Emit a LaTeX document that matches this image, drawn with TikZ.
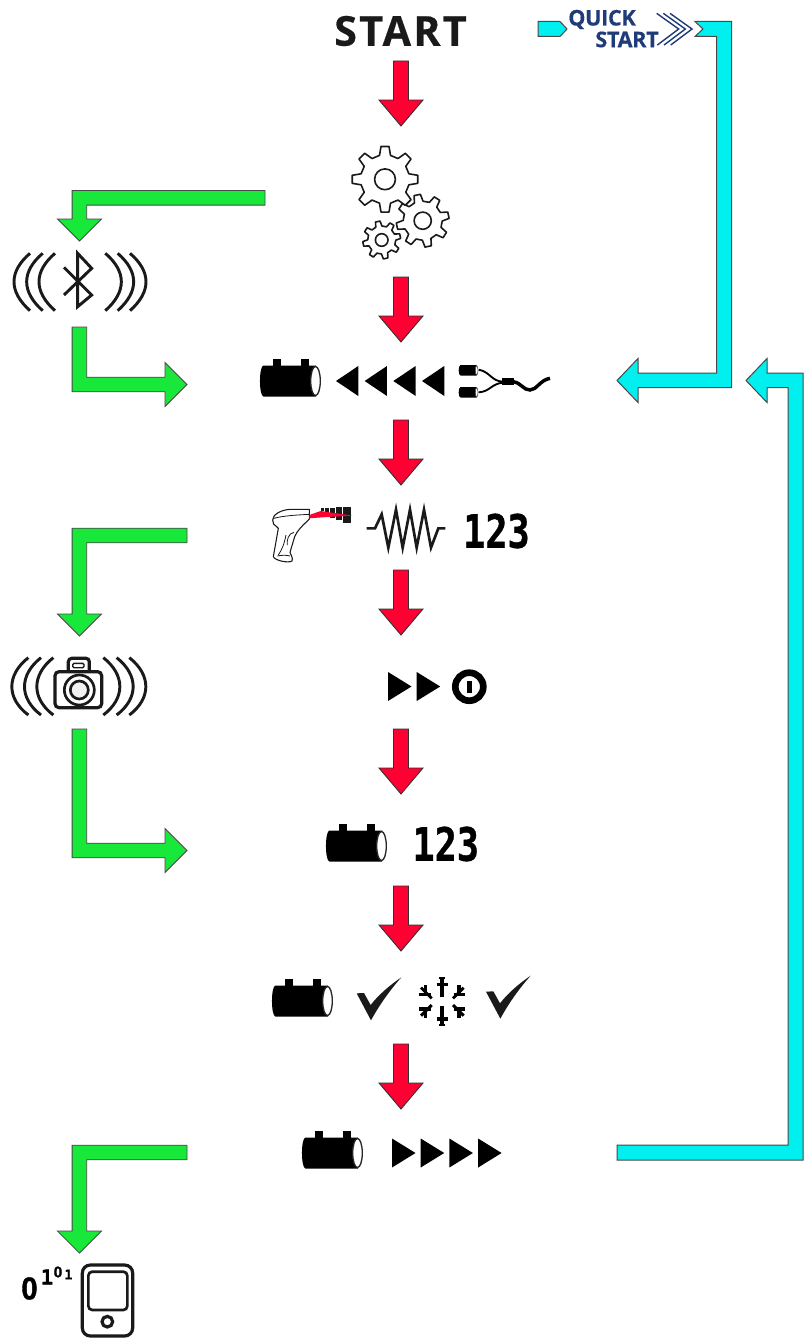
\documentclass[tikz,border=0pt]{standalone}
\usepackage{fontspec}
\usepackage{graphicx}
\usetikzlibrary{calc}
\setmainfont{Open Sans}
\newfontfamily\monofam[BoldFeatures={FakeBold=0.9}]{DejaVu Sans Mono}
\newfontfamily\sansfam[BoldFeatures={FakeBold=1.2}]{Liberation Sans}
\newfontfamily\spacedfam[LetterSpace=5.5,BoldFeatures={FakeBold=0.3}]{Open Sans}
\newfontfamily\qsfam[LetterSpace=-1.5,BoldFeatures={FakeBold=0.5}]{Open Sans}
\definecolor{redarrow}{HTML}{FF0033}
\definecolor{greenarrow}{HTML}{17E83A}
\definecolor{cyanarrow}{HTML}{00F0F0}
\definecolor{navy}{HTML}{1F3B7A}
\definecolor{ink}{HTML}{1A1A1A}
\tikzset{
  redblock/.style={fill=redarrow,draw=ink!90,line width=.65pt,line join=miter},
  greenblock/.style={fill=greenarrow,draw=ink!80,line width=.65pt,line join=miter},
  cyanblock/.style={fill=cyanarrow,draw=ink!80,line width=.75pt,line join=miter},
  gearline/.style={draw=ink,fill=white,line width=1.2pt,line join=round},
  wave/.style={draw=ink,line width=2.2pt},
  iconline/.style={draw=ink,line width=2.4pt},
  label/.style={inner sep=0pt,outer sep=0pt},
  battery/.pic={
    \fill[black] (12.7,-22) rectangle (20.7,-14);
    \fill[black] (41,-22) rectangle (49,-14);
    \fill[black] (3.5,-15.5) -- (56,-15.5) -- (56,15.5) -- (3.5,15.5) .. controls (-1.2,15.5) and (-1.2,-15.5) .. (3.5,-15.5) -- cycle;
    \draw[fill=white,draw=black!85,line width=1pt] (55.5,0) ellipse (4.8 and 14.5);
  },
  leftgly/.pic={\fill[black] (0,0) -- (22.3,-15) -- (22.3,15) -- cycle;},
  rightgly/.pic={\fill[black] (0,-14.5) -- (23.5,0) -- (0,14.5) -- cycle;},
}
% gear: #1 cx, #2 cy, #3 outer, #4 root, #5 rotation, #6 hole
\newcommand{\gearshape}[6]{%
  \draw[gearline] ({#1+#4*cos(#5-13)},{#2-#4*sin(#5-13)})
  \foreach \k in {0,...,7}{
    -- ({#1+#4*cos(#5+\k*45-13)},{#2-#4*sin(#5+\k*45-13)})
    -- ({#1+#3*cos(#5+\k*45-7)},{#2-#3*sin(#5+\k*45-7)})
    -- ({#1+#3*cos(#5+\k*45+7)},{#2-#3*sin(#5+\k*45+7)})
    -- ({#1+#4*cos(#5+\k*45+13)},{#2-#4*sin(#5+\k*45+13)})
  } -- cycle;
  \draw[gearline] (#1,#2) circle (#6);
}
% red block arrow between two named points
\newcommand{\RedDown}[2]{%
  \draw[redblock] ($(#1)+(-7.5,0)$) -- ($(#1)+(7.5,0)$) -- ($(#2)+(7.5,-26)$) -- ($(#2)+(22,-26)$) -- (#2)
   -- ($(#2)+(-22,-26)$) -- ($(#2)+(-7.5,-26)$) -- cycle;}
\newcommand{\ElbowDown}[2]{%
  \draw[greenblock] ($(#1)+(0,-7.3)$) -- ($(#2|-#1)+(-7.3,-7.3)$) -- ($(#2)+(-7.3,-22)$) -- ($(#2)+(-22,-22)$) -- (#2)
   -- ($(#2)+(22,-22)$) -- ($(#2)+(7.3,-22)$) -- ($(#2|-#1)+(7.3,7.3)$) -- ($(#1)+(0,7.3)$) -- cycle;}
\newcommand{\ElbowRight}[2]{%
  \draw[greenblock] ($(#1)+(-7.3,0)$) -- ($(#1|-#2)+(-7.3,7.3)$) -- ($(#2)+(-22,7.3)$) -- ($(#2)+(-22,22)$) -- (#2)
   -- ($(#2)+(-22,-22)$) -- ($(#2)+(-22,-7.3)$) -- ($(#1|-#2)+(7.3,-7.3)$) -- ($(#1)+(7.3,0)$) -- cycle;}
\begin{document}
\begin{tikzpicture}[x=.75pt,y=-.75pt]
\useasboundingbox (0,0) rectangle (803,1338);
\fill[white] (0,0) rectangle (803,1338);

% ---- labels
\node[label,text=ink,font=\spacedfam\bfseries\fontsize{31}{31}\selectfont] (start) at (400.5,31) {START};
\node[label,text=navy,font=\qsfam\bfseries\fontsize{16.2}{16}\selectfont] (quick) at (602,19.5) {QUICK};
\node[label,text=navy,font=\qsfam\bfseries\fontsize{16.2}{16}\selectfont] (qstart) at (627,39.5) {START};

% ---- red arrows
\foreach \n/\a/\b in {1/61/126,2/277/342,3/420/485,4/570/635,5/729/794,6/886/951,7/1044/1109}{
  \coordinate (r\n s) at (401,\a);
  \coordinate (r\n e) at (401,\b);
  \RedDown{r\n s}{r\n e}
}

% ---- green arrows
\coordinate (g1s) at (265,197.8); \coordinate (g1e) at (79.4,241);
\coordinate (g2s) at (79.4,327);  \coordinate (g2e) at (187,384.5);
\coordinate (g3s) at (187,535.5); \coordinate (g3e) at (79.4,636);
\coordinate (g4s) at (79.4,729);  \coordinate (g4e) at (187,850.5);
\coordinate (g5s) at (187,1152.5);\coordinate (g5e) at (79.4,1253);
\ElbowDown{g1s}{g1e}
\ElbowRight{g2s}{g2e}
\ElbowDown{g3s}{g3e}
\ElbowRight{g4s}{g4e}
\ElbowDown{g5s}{g5e}

% ---- cyan arrows
\coordinate (c0s) at (538,29); \coordinate (c0e) at (567,29);
\draw[cyanblock] ($(c0s)+(0,-7.5)$) -- ($(c0e)+(-7,-7.5)$) -- (c0e) -- ($(c0e)+(-7,7.5)$) -- ($(c0s)+(0,7.5)$) -- cycle;
\coordinate (c1s) at (703,29); \coordinate (c1a) at (724,29); \coordinate (c1b) at (724,380.5); \coordinate (c1e) at (617,380.5);
\draw[cyanblock] (c1s) -- ($(c1s)+(-8,-7.5)$) -- ($(c1a)+(7.5,-7.5)$) -- ($(c1b)+(7.5,7)$) -- ($(c1e)+(21,7)$) -- ($(c1e)+(21,22)$) -- (c1e)
  -- ($(c1e)+(21,-22)$) -- ($(c1e)+(21,-7.5)$) -- ($(c1b)+(-7.5,-7.5)$) -- ($(c1a)+(-7.5,7.5)$) -- ($(c1s)+(-8,7.5)$) -- cycle;
\coordinate (c2s) at (617,1152.5); \coordinate (c2a) at (795.5,1152.5); \coordinate (c2b) at (795.5,380.5); \coordinate (c2e) at (746,380.5);
\draw[cyanblock] ($(c2s)+(0,-7.5)$) -- ($(c2a)+(-7.5,-7.5)$) -- ($(c2b)+(-7.5,7)$) -- ($(c2e)+(21,7)$) -- ($(c2e)+(21,22)$) -- (c2e)
  -- ($(c2e)+(21,-22)$) -- ($(c2e)+(21,-7.5)$) -- ($(c2b)+(7.5,-7.5)$) -- ($(c2a)+(7.5,7.5)$) -- ($(c2s)+(0,7.5)$) -- cycle;

% ---- chevrons by QUICK START
\begin{scope}[shift={(520,0)},x=.25pt,y=-.25pt]
  \foreach \d in {0,20,40}{
    \draw[navy,line width=1.05pt] (410+\d,40) -- (476+\d,87) -- (412+\d,135);
  }
\end{scope}

% ---- gears
\gearshape{422.7}{220.7}{26.5}{19.5}{12}{8.6}
\gearshape{381.7}{240}{19}{14}{12}{6.3}
\gearshape{385}{179.3}{33}{24.5}{90}{10.4}

% ---- bluetooth and waves
\begin{scope}[shift={(0,180)},x=.25pt,y=-.25pt]
  \foreach \x in {90,128,165}{
    \draw[wave] (\x,220) .. controls (\x-64,275) and (\x-64,335) .. (\x,392);}
  \foreach \x in {316,353,390}{
    \draw[wave] (\x,220) .. controls (\x+64,275) and (\x+64,335) .. (\x,392);}
  \draw[draw=ink,line width=2.2pt,line join=miter]
    (192,262) -- (275,345) -- (233,380) -- (233,220) -- (275,265) -- (192,345);
\end{scope}

% ---- row 1 icons
\pic (bat1) at (260,381) {battery};
\foreach \k in {0,1,2,3}{
  \pic (lt\k) at ({336+28.67*\k},381) {leftgly};
}
\begin{scope}[shift={(250,350)},x=.25pt,y=-.25pt]
  \foreach \yy in {61,127}{
    \fill[black] (632,\yy-16) -- (680,\yy-16) -- (680,\yy+16) -- (632,\yy+16) .. controls (624,\yy+16) and (624,\yy-16) .. (632,\yy-16) -- cycle;
    \draw[fill=white,draw=black!70,line width=.5pt] (680,\yy) ellipse (4 and 14);
  }
  \draw[black,line width=1.4pt] (686,59) .. controls (720,65) and (725,95) .. (760,95);
  \draw[black,line width=1.4pt] (686,127) .. controls (720,125) and (725,100) .. (760,98);
  \fill[black] (755,84) rectangle (792,106);
  \draw[black,line width=2.6pt] (790,95) .. controls (815,100) and (820,120) .. (840,120) .. controls (860,120) and (870,90) .. (900,85);
\end{scope}

% ---- row 2 icons
\begin{scope}[shift={(260,495)},x=.25pt,y=-.25pt]
  \draw[draw=ink,line width=.8pt,fill=white,line join=round] (148,43) -- (90,43) .. controls (60,45) and (38,60) .. (38,75)
     .. controls (38,85) and (42,92) .. (50,95) -- (55,100) -- (40,185)
     .. controls (45,197) and (85,205) .. (96,198) .. controls (100,190) and (92,178) .. (90,172)
     -- (104,125) .. controls (112,105) and (130,90) .. (148,72) -- cycle;
  \draw[draw=ink,line width=.6pt] (42,70) .. controls (70,62) and (110,60) .. (148,58);
  \draw[draw=ink,line width=.6pt] (78,120) .. controls (72,150) and (65,165) .. (55,180);
  \draw[draw=ink,line width=.6pt] (102,112) .. controls (85,115) and (80,135) .. (82,150);
  \draw[draw=ink,line width=.6pt] (52,183) .. controls (65,180) and (80,180) .. (90,183);
  \fill[ink] (182,40) rectangle (192,48);
  \fill[ink] (195,38) rectangle (207,60);
  \fill[ink] (211,38) rectangle (225,68);
  \fill[ink] (229,37) rectangle (245,75);
  \fill[ink] (249,36) rectangle (272,85);
  \fill[redarrow] (148,60) -- (182,48) -- (278,62) -- (200,66) -- (148,70) -- cycle;
  \draw[draw=ink,line width=2pt,line join=miter,miter limit=20]
    (320,100) -- (345,100) -- (365,58) -- (385,158) -- (408,44) -- (428,158) -- (450,44) -- (470,158) -- (492,44) -- (513,158) -- (535,100) -- (556,100);
\end{scope}
\node[label,text=black,font=\monofam\bfseries\fontsize{34.5}{34}\selectfont] (n123a) at (496.5,531) {\scalebox{.8}[1]{123}};

% ---- row 3: camera with waves, forward, power
\begin{scope}[shift={(0,645)},x=.25pt,y=-.25pt]
  \foreach \x in {85,123,160}{
    \draw[wave] (\x,38) .. controls (\x-66,90) and (\x-66,160) .. (\x,210);}
  \foreach \x in {310,350,388}{
    \draw[wave] (\x,38) .. controls (\x+66,90) and (\x+66,160) .. (\x,210);}
  \draw[iconline,rounded corners=2.5pt,fill=white] (205,80) -- (205,40) -- (268,40) -- (268,80);
  \draw[draw=ink,line width=1pt,rounded corners=1pt] (218,55) rectangle (252,68);
  \draw[iconline,rounded corners=3pt,fill=white] (165,80) rectangle (305,188);
  \draw[iconline,line width=2pt] (238,135) circle [radius=45];
  \draw[iconline,line width=2pt,fill=black!5] (238,135) circle [radius=27];
\end{scope}
\pic (fw1) at (388,686.5) {rightgly};
\pic (fw2) at (416.7,686.5) {rightgly};
\coordinate (pw) at (469.3,686.7);
\draw[black,line width=5pt] (pw) circle (14);
\fill[black] ($(pw)+(-2.2,-6)$) rectangle ($(pw)+(2.2,6)$);

% ---- row 4
\pic (bat2) at (326,846) {battery};
\node[label,text=black,font=\monofam\bfseries\fontsize{34.5}{34}\selectfont] (n123b) at (445.8,844) {\scalebox{.8}[1]{123}};

% ---- row 5
\pic (bat3) at (272,1001) {battery};
\begin{scope}[shift={(260,965)},x=.25pt,y=-.25pt]
  \foreach \dx/\dy in {0/0,388/-5}{
    \fill[ink,shift={(\dx,\dy)}] (290,85) -- (312,84) -- (332,120) .. controls (355,90) and (390,60) .. (424,37)
      .. controls (390,75) and (358,120) .. (333,166) -- cycle;
  }
  % snowflake: two upright branches and four corner branches
  \foreach \sy in {-1,1}{
    \draw[black,line width=2.8pt] (547,{110+\sy*14}) -- (547,{110+\sy*72});
    \draw[black,line width=2.4pt] (530,{110+\sy*52}) -- (564,{110+\sy*52});
    \fill[black] (538,{110+\sy*68}) rectangle (556,{110+\sy*74});
    \foreach \sx in {-1,1}{
      \draw[black,line width=2.6pt] ({547+\sx*34},{110+\sy*22}) -- ({547+\sx*69},{110+\sy*22});
      \draw[black,line width=2.6pt] ({547+\sx*50},{110+\sy*18}) -- ({547+\sx*50},{110+\sy*50});
      \draw[black,line width=2.2pt] ({547+\sx*32},{110+\sy*10}) -- ({547+\sx*64},{110+\sy*42});
    }
  }
\end{scope}

% ---- row 6
\pic (bat4) at (302,1153) {battery};
\foreach \k in {0,1,2,3}{
  \pic (rt\k) at ({392+28.7*\k},1153) {rightgly};
}

% ---- bottom: 0101 and handheld
\node[label,text=black,font=\sansfam\bfseries\fontsize{19}{19}\selectfont] (d0) at (29.5,1288.5) {\scalebox{1.15}[1.25]{0}};
\node[label,text=black,font=\monofam\bfseries\fontsize{15.5}{15}\selectfont] (d1) at (47,1277) {1};
\node[label,text=black,font=\sansfam\bfseries\fontsize{10.5}{10}\selectfont] (d2) at (58,1272) {\scalebox{1.1}[1.1]{0}};
\node[label,text=black,font=\monofam\bfseries\fontsize{10}{10}\selectfont] (d3) at (68.5,1274.5) {1};
\begin{scope}[shift={(10,1255)},x=.25pt,y=-.25pt]
  \draw[iconline,rounded corners=6pt] (217,30) rectangle (368,243);
  \draw[iconline,line width=2pt,rounded corners=3pt] (235,50) rectangle (352,165);
  \draw[iconline] (292,200) circle [radius=16];
\end{scope}
\end{tikzpicture}
\end{document}
